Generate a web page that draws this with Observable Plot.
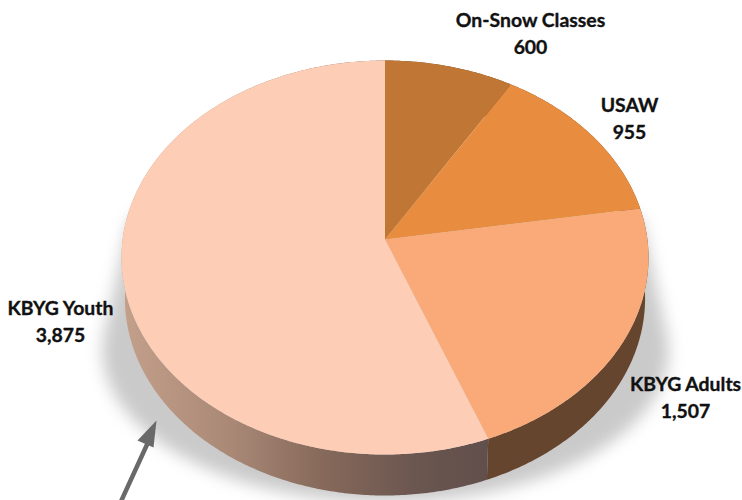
<!DOCTYPE html>
<html>
<head>
<meta charset="utf-8">
<style>html,body{margin:0;padding:0;background:#fff}svg{display:block}</style>
<script src="https://cdn.jsdelivr.net/npm/d3@7"></script>
<script src="https://cdn.jsdelivr.net/npm/@observablehq/plot@0.6"></script>
</head>
<body>
<div id="chart"></div>
<script>
// Chart data
const categories = ["On-Snow Classes", "USAW", "KBYG Adults", "KBYG Youth"];
const values = [600, 955, 1507, 3875];

// Styles
const topColors = ["#c07634", "#e88c3f", "#f9aa78", "#fdcdb6"];
const wallColors = ["#6b4a2c", "#6b4a2c", "#66452e", "url(#youthWall)"];

// Pixel frame of the disc ellipse
const cx = 384.5, cy = 257, rx = 263.5, ry = 197;
const ux = px => (px - cx) / rx;
const uy = py => (py - cy) / ry;

// Perspective: the pie's centre sits above the ellipse centre
const k = (239 - cy) / ry;
const project = (a, r = 1) => {
  const u = r * Math.sin(a), v = -r * Math.cos(a), d = 1 + k * v;
  return [u * Math.sqrt(1 - k * k) / d, (v + k) / d];
};

const total = d3.sum(values);
let acc = 0;
const slices = values.map((v, i) => {
  const a0 = acc / total * 2 * Math.PI;
  acc += v;
  return {name: categories[i], value: v, a0, a1: acc / total * 2 * Math.PI, i};
});
const arc = s => {
  const n = Math.max(2, Math.ceil((s.a1 - s.a0) / 0.01));
  return d3.range(n + 1).map(j => project(s.a0 + (s.a1 - s.a0) * j / n));
};
const wallDepth = 41 / ry, wallScale = 0.987;
const wall = s => {
  const p = arc(s);
  const q = p.map(([x, y]) => [x * wallScale, y + wallDepth]).reverse();
  return [...p, ...q];
};
const face = s => [project(0, 0), ...arc(s)];

// Soft cast shadow: hull of a widened ellipse below and a narrow one behind
const ell = (c, y, sx, sy) => d3.range(0, 2 * Math.PI, 0.02).map(a => [ux(c + sx * Math.cos(a)), uy(y + sy * Math.sin(a))]);
const shadow = d3.polygonHull([...ell(385, 350, 283, 152), ...ell(385, 225, 257, 40)]);

// Pointer arrow annotation
const arrowShaft = [[ux(120), uy(502)], [ux(147), uy(443)]];
const arrowHead = [[ux(156), uy(420)], [ux(137), uy(440)], [ux(153), uy(447)]];

// Label anchors, in the order of categories
const labelPx = [[530, 31.5], [629, 116.5], [685, 395.5], [60, 319.5]];
const labels = slices.map(s => ({
  text: s.name + "\n" + d3.format(",")(s.value),
  x: ux(labelPx[s.i][0]),
  y: uy(labelPx[s.i][1])
}));

const defs = () => {
  const d = d3.create("svg:defs");
  const g = d.append("linearGradient").attr("id", "youthWall").attr("x1", 0).attr("x2", 1).attr("y1", 0).attr("y2", 0);
  [[0, "#c4a08b"], [0.3, "#a98876"], [0.55, "#86695a"], [0.8, "#6b5650"], [1, "#614f4b"]].forEach(([o, c]) =>
    g.append("stop").attr("offset", o).attr("stop-color", c));
  return d.node();
};

const poly = (pts, fill, extra = {}) => Plot.line(pts, {x: d => d[0], y: d => d[1], fill, stroke: "none", curve: "linear", ...extra});

const chart = Plot.plot({
  width: 742,
  height: 500,
  margin: 0,
  x: {domain: [-1, 1], range: [cx - rx, cx + rx], axis: null},
  y: {domain: [-1, 1], range: [cy - ry, cy + ry], axis: null},
  style: {background: "#fff"},
  marks: [
    defs,
    poly(shadow, "#cacaca", {imageFilter: "blur(8px)"}),
    ...slices.map(s => poly(wall(s), wallColors[s.i])),
    ...slices.map(s => poly(face(s), topColors[s.i])),
    Plot.line(arrowShaft, {x: d => d[0], y: d => d[1], stroke: "#696969", strokeWidth: 4.5}),
    poly(arrowHead, "#696969"),
    Plot.text(labels, {
      x: "x", y: "y", text: "text",
      fontFamily: "Lato, Carlito, sans-serif",
      fontWeight: 700,
      fontSize: 19.4,
      lineHeight: 1.36,
      lineAnchor: "middle",
      textAnchor: "middle",
      fill: "#111",
      stroke: "#111",
      strokeWidth: 0.35
    })
  ]
});
document.getElementById("chart").append(chart);
</script>
</body>
</html>
